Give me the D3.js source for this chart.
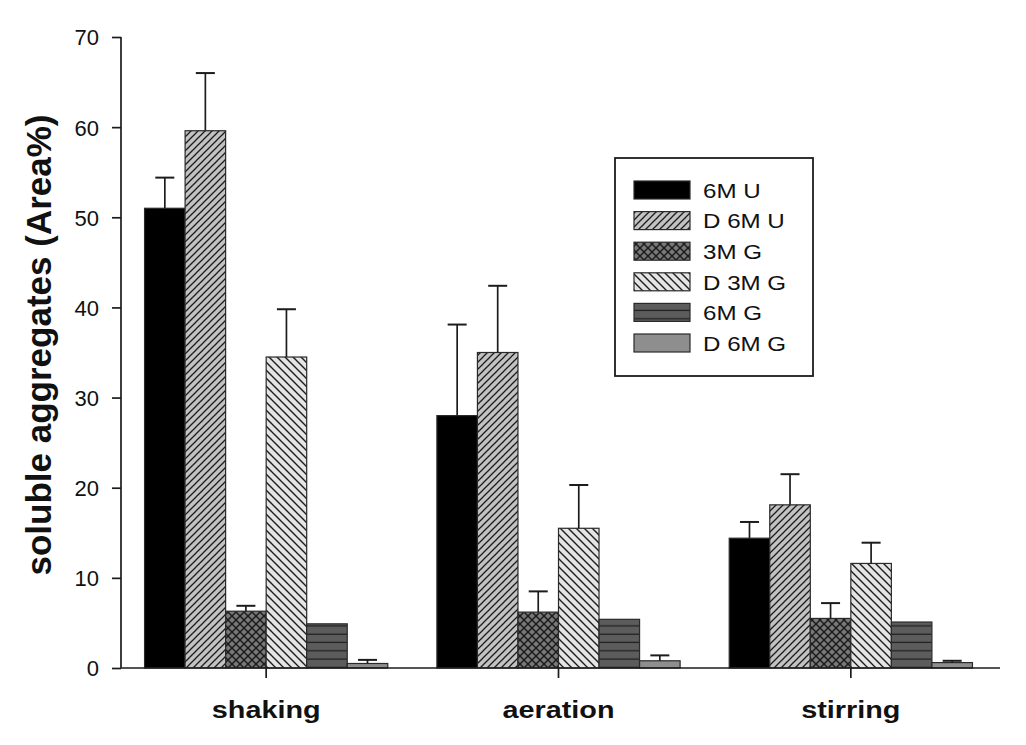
<!DOCTYPE html>
<html>
<head>
<meta charset="utf-8">
<script src="https://cdn.jsdelivr.net/npm/d3@7"></script>
<style>
  html, body { margin: 0; padding: 0; background: #ffffff; }
  svg { display: block; font-family: "Liberation Sans", Arial, sans-serif; }
</style>
</head>
<body>
<svg id="chart" width="1026" height="745"></svg>
<script>
// Treatment conditions on the x axis
const categories = ["shaking", "aeration", "stirring"];
// Denaturant series (legend order)
const seriesNames = ["6M U", "D 6M U", "3M G", "D 3M G", "6M G", "D 6M G"];

// Mean soluble aggregates (Area%) per series, in category order
const u6M  = [51.0, 28.0, 14.4];
const du6M = [59.6, 35.0, 18.1];
const g3M  = [6.3, 6.2, 5.5];
const dg3M = [34.5, 15.5, 11.6];
const g6M  = [4.9, 5.4, 5.1];
const dg6M = [0.5, 0.8, 0.6];

// Standard deviations (upper error bars)
const u6MErr  = [3.4, 10.1, 1.8];
const du6MErr = [6.4, 7.4, 3.4];
const g3MErr  = [0.6, 2.3, 1.7];
const dg3MErr = [5.3, 4.8, 2.3];
const g6MErr  = [0, 0, 0];
const dg6MErr = [0.4, 0.6, 0.2];

const yTicks = [0, 10, 20, 30, 40, 50, 60, 70];

const seriesValues = [u6M, du6M, g3M, dg3M, g6M, dg6M];
const seriesErrors = [u6MErr, du6MErr, g3MErr, dg3MErr, g6MErr, dg6MErr];

const rows = [];
categories.forEach((c, ci) => {
  seriesNames.forEach((s, si) => {
    rows.push({ cat: c, series: s, value: seriesValues[si][ci], err: seriesErrors[si][ci] });
  });
});

const svg = d3.select("#chart");
const ink = "#1c1c1c";

// ---- fill patterns ----
const defs = svg.append("defs");
function stripePattern(id, bg, size, lines, sw) {
  const p = defs.append("pattern").attr("id", id)
    .attr("patternUnits", "userSpaceOnUse").attr("width", size).attr("height", size);
  p.append("rect").attr("width", size).attr("height", size).attr("fill", bg);
  lines.forEach(d => p.append("path").attr("d", d).attr("stroke", ink)
    .attr("stroke-width", sw).attr("fill", "none"));
}
// forward diagonal "/"
stripePattern("pDU6", "#c2c2c2", 7, ["M-1,1 L1,-1", "M0,7 L7,0", "M6,8 L8,6"], 1.25);
// cross-hatch
stripePattern("pG3", "#787878", 8, ["M0,8 L8,0", "M-1,1 L1,-1", "M7,9 L9,7", "M0,0 L8,8", "M-1,7 L1,9", "M7,-1 L9,1"], 1.5);
// back diagonal "\"
stripePattern("pDG3", "#e4e4e4", 8, ["M0,0 L8,8", "M-1,7 L1,9", "M7,-1 L9,1"], 1.35);
// horizontal lines
(function () {
  const p = defs.append("pattern").attr("id", "pG6")
    .attr("patternUnits", "userSpaceOnUse").attr("width", 8).attr("height", 8.3)
    .attr("y", 668);
  p.append("rect").attr("width", 8).attr("height", 8.3).attr("fill", "#5c5c5c");
  p.append("rect").attr("y", 7.1).attr("width", 8).attr("height", 1.2).attr("fill", "#1e1e1e");
})();

const fills = {
  "6M U": "#000000",
  "D 6M U": "url(#pDU6)",
  "3M G": "url(#pG3)",
  "D 3M G": "url(#pDG3)",
  "6M G": "url(#pG6)",
  "D 6M G": "#8e8e8e"
};

// ---- scales ----
const y = d3.scaleLinear().domain([0, 70]).range([668, 37]);
const x0 = d3.scaleBand().domain(categories).range([120, 997])
  .paddingInner(0.168).paddingOuter(0.084);
const x1 = d3.scaleBand().domain(seriesNames).range([0, x0.bandwidth()]).padding(0);

// ---- bars ----
const g = svg.append("g");
g.selectAll("rect.bar").data(rows).join("rect")
  .attr("class", "bar")
  .attr("x", d => x0(d.cat) + x1(d.series))
  .attr("y", d => y(d.value))
  .attr("width", x1.bandwidth())
  .attr("height", d => y(0) - y(d.value))
  .attr("fill", d => fills[d.series])
  .attr("stroke", "#2a2a2a")
  .attr("stroke-width", 1.2);

// ---- upper error bars ----
const capHalf = 9.5;
const eb = g.selectAll("g.err").data(rows.filter(d => d.err > 0)).join("g").attr("class", "err");
eb.append("line")
  .attr("x1", d => x0(d.cat) + x1(d.series) + x1.bandwidth() / 2)
  .attr("x2", d => x0(d.cat) + x1(d.series) + x1.bandwidth() / 2)
  .attr("y1", d => y(d.value))
  .attr("y2", d => y(d.value + d.err))
  .attr("stroke", ink).attr("stroke-width", 1.7);
eb.append("line")
  .attr("x1", d => x0(d.cat) + x1(d.series) + x1.bandwidth() / 2 - capHalf)
  .attr("x2", d => x0(d.cat) + x1(d.series) + x1.bandwidth() / 2 + capHalf)
  .attr("y1", d => y(d.value + d.err))
  .attr("y2", d => y(d.value + d.err))
  .attr("stroke", ink).attr("stroke-width", 2);

// ---- axes ----
const yAxis = d3.axisLeft(y).tickValues(yTicks).tickSize(9).tickPadding(13);
const ya = svg.append("g").attr("transform", "translate(121,0)").call(yAxis);
ya.select(".domain").attr("stroke", ink).attr("stroke-width", 1.7).attr("d", "M0,37V668");
ya.selectAll(".tick line").attr("stroke", ink).attr("stroke-width", 1.7);
ya.selectAll(".tick text").attr("fill", "#111").style("font-size", "22px")
  .attr("font-family", "'Liberation Sans', Arial, sans-serif").attr("dy", "0.36em");

const xAxis = d3.axisBottom(x0).tickSize(10).tickFormat("");
const xa = svg.append("g").attr("transform", "translate(0,668)").call(xAxis);
xa.select(".domain").attr("stroke", ink).attr("stroke-width", 1.7).attr("d", "M121,0H1000");
xa.selectAll(".tick line").attr("stroke", ink).attr("stroke-width", 1.7);

// category labels (bold, slightly wide)
svg.append("g").selectAll("text").data(categories).join("text")
  .attr("transform", d => `translate(${x0(d) + x0.bandwidth() / 2},718) scale(1.2,1)`)
  .attr("text-anchor", "middle")
  .attr("font-weight", "bold")
  .attr("font-size", 24)
  .attr("fill", "#111")
  .text(d => d);

// y axis title
svg.append("text")
  .attr("transform", "translate(51,345) rotate(-90)")
  .attr("text-anchor", "middle")
  .attr("font-weight", "bold")
  .attr("font-size", 35)
  .attr("fill", "#111")
  .text("soluble aggregates (Area%)");

// ---- legend ----
const lg = svg.append("g");
lg.append("rect").attr("x", 615).attr("y", 158).attr("width", 198).attr("height", 218)
  .attr("fill", "#fff").attr("stroke", ink).attr("stroke-width", 1.8);
const ly = d3.scalePoint().domain(seriesNames).range([190, 343]);
const items = lg.selectAll("g.item").data(seriesNames).join("g").attr("class", "item");
items.append("rect")
  .attr("x", 634).attr("y", d => ly(d) - 9)
  .attr("width", 56).attr("height", 18)
  .attr("fill", d => fills[d])
  .attr("stroke", "#2a2a2a").attr("stroke-width", 1.2);
items.append("text")
  .attr("transform", d => `translate(703,${ly(d) + 7.8}) scale(1.15,1)`)
  .attr("font-size", 21)
  .attr("fill", "#111")
  .text(d => d);
</script>
</body>
</html>
